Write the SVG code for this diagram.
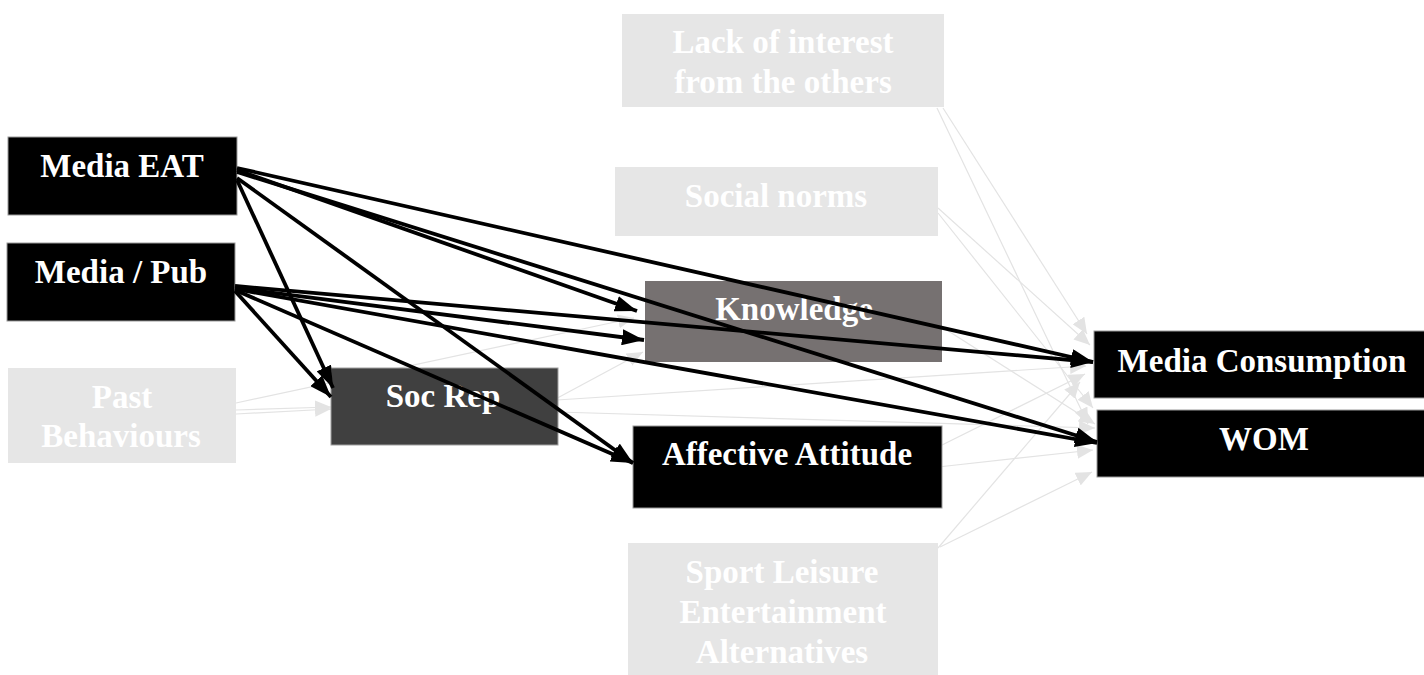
<svg xmlns="http://www.w3.org/2000/svg" width="1424" height="675" viewBox="0 0 1424 675">
<style>
.lbl{font-family:"Liberation Serif","Times New Roman",serif;font-weight:bold;font-size:33px;fill:#ffffff;text-anchor:middle}
.dim{fill:#e6e6e6}
.blk{fill:#000000;stroke:#9a9a9a;stroke-width:1}
.faint{stroke:#e3e3e3;stroke-width:1.2;fill:none;marker-end:url(#fa)}
.bold{stroke:#000000;stroke-width:3.8;fill:none;marker-end:url(#ba)}
</style>
<defs>
<marker id="ba" markerUnits="userSpaceOnUse" markerWidth="22" markerHeight="16" refX="22" refY="8" orient="auto">
<path d="M0,0 L22,8 L0,16 z" fill="#000"/>
</marker>
<marker id="fa" markerUnits="userSpaceOnUse" markerWidth="16" markerHeight="14" refX="16" refY="7" orient="auto">
<path d="M0,0 L16,7 L0,14 z" fill="#e3e3e3"/>
</marker>
</defs>
<rect width="1424" height="675" fill="#ffffff"/>
<g id="connectors-faint">
<line class="faint" x1="236" y1="410" x2="331" y2="407"/>
<line class="faint" x1="236" y1="414" x2="331" y2="409"/>
<line class="faint" x1="236" y1="403" x2="634" y2="318"/>
<line class="faint" x1="550" y1="402" x2="643" y2="352"/>
<line class="faint" x1="557" y1="400" x2="1086" y2="366"/>
<line class="faint" x1="557" y1="412" x2="1095" y2="428"/>
<line class="faint" x1="942" y1="327" x2="1095" y2="424"/>
<line class="faint" x1="938" y1="447" x2="1085" y2="374"/>
<line class="faint" x1="938" y1="467" x2="1093" y2="450"/>
<line class="faint" x1="938" y1="548" x2="1080" y2="382"/>
<line class="faint" x1="940" y1="547" x2="1092" y2="472"/>
<line class="faint" x1="937" y1="108" x2="1088" y2="424"/>
<line class="faint" x1="943" y1="108" x2="1087" y2="334"/>
<line class="faint" x1="938" y1="208" x2="1090" y2="345"/>
<line class="faint" x1="938" y1="213" x2="1093" y2="408"/>
</g>
<g id="n-media-eat"><rect class="blk" x="8" y="137" width="229" height="78"/><text class="lbl" x="122" y="177">Media EAT</text></g>
<g id="n-media-pub"><rect class="blk" x="7" y="243" width="228" height="78"/><text class="lbl" x="121" y="283">Media / Pub</text></g>
<g id="n-past"><rect class="dim" x="8" y="368" width="228" height="95"/><text class="lbl" x="122" y="408">Past</text><text class="lbl" x="121" y="447">Behaviours</text></g>
<g id="n-socrep"><rect x="331" y="368" width="227" height="77" fill="#404040" stroke="#a0a0a0" stroke-width="1"/><text class="lbl" x="443" y="407">Soc Rep</text></g>
<g id="n-knowledge"><rect x="645" y="281" width="297" height="81" fill="#767171"/><text class="lbl" x="794" y="320">Knowledge</text></g>
<g id="n-affective"><rect class="blk" x="633" y="426" width="309" height="82"/><text class="lbl" x="787" y="465">Affective Attitude</text></g>
<g id="n-lack"><rect class="dim" x="622" y="14" width="322" height="93"/><text class="lbl" x="783" y="53">Lack of interest</text><text class="lbl" x="783" y="93">from the others</text></g>
<g id="n-social"><rect class="dim" x="615" y="167" width="323" height="69"/><text class="lbl" x="776" y="207">Social norms</text></g>
<g id="n-sport"><rect class="dim" x="628" y="543" width="310" height="140"/><text class="lbl" x="782" y="583">Sport Leisure</text><text class="lbl" x="783" y="623">Entertainment</text><text class="lbl" x="782" y="663">Alternatives</text></g>
<g id="n-mc"><rect class="blk" x="1094" y="331" width="340" height="67"/><text class="lbl" x="1262" y="372">Media Consumption</text></g>
<g id="n-wom"><rect class="blk" x="1097" y="410" width="340" height="67"/><text class="lbl" x="1264" y="450">WOM</text></g>
<g id="connectors">
<line class="bold" x1="237" y1="170" x2="637" y2="311"/>
<line class="bold" x1="237" y1="168" x2="1093" y2="362"/>
<line class="bold" x1="237" y1="172" x2="1097" y2="442"/>
<line class="bold" x1="237" y1="178" x2="633" y2="463"/>
<line class="bold" x1="237" y1="180" x2="333" y2="388"/>
<line class="bold" x1="235" y1="288" x2="644" y2="340"/>
<line class="bold" x1="235" y1="286" x2="1093" y2="362"/>
<line class="bold" x1="235" y1="289" x2="1097" y2="443"/>
<line class="bold" x1="235" y1="290" x2="633" y2="463"/>
<line class="bold" x1="235" y1="291" x2="331" y2="397"/>
</g>
</svg>
